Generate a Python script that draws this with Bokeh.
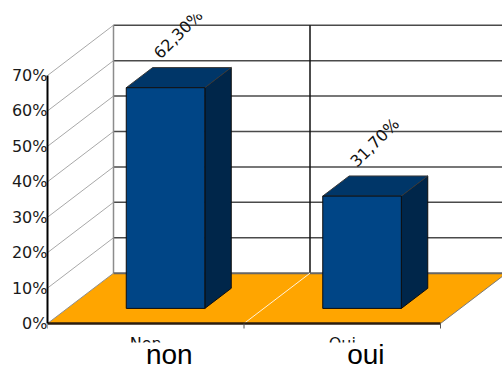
from bokeh.plotting import figure
from bokeh.models import Range1d, FixedTicker, PrintfTickFormatter, BoxAnnotation
from bokeh.core.properties import value
from bokeh.embed import file_html
from bokeh.resources import INLINE

# ---- data -------------------------------------------------------------
categories = ["Non", "Oui"]
shares = [62.3, 31.7]                      # percent of answers
share_labels = ["62,30%", "31,70%"]
overlay_labels = ["non", "oui"]
y_ticks = [0, 10, 20, 30, 40, 50, 60, 70]
y_max = 70

# ---- canvas and oblique-projection geometry (pixels) ------------------
W, H = 502, 365
LEFT, TOP = 47, 14            # frame offset inside the canvas
ZERO_Y, MAX_Y = 323, 75       # canvas rows of 0 % and 70 % on the front axis
SLOT_PX = 196.5               # width of one category slot on the front plane
DEPTH_DX_PX, DEPTH_DY_PX = 66, 50.3   # shift from the front plane to the back wall

px_per_pct = (ZERO_Y - MAX_Y) / y_max
DX = DEPTH_DX_PX / SLOT_PX    # depth shift in x data units
DY = DEPTH_DY_PX / px_per_pct  # depth shift in percent units
n = len(categories)

BAR_HALF = 0.2                # half bar width, in slot units
D_FRONT, D_BACK = 0.3, 0.7    # bar depth span (0 = front plane, 1 = back wall)


def proj(x, y, d):
    """Project a point at depth d onto the drawing plane."""
    return x + d * DX, y + d * DY


def canvas_row(row):
    """Percent value that lands on a given canvas row (front plane)."""
    return (ZERO_Y - row) / px_per_pct


x_range = Range1d(0, (W - LEFT) / SLOT_PX)
y_range = Range1d(canvas_row(H), canvas_row(TOP))

p = figure(width=W, height=H, x_range=x_range, y_range=y_range,
           output_backend="svg", toolbar_location=None,
           x_axis_location=None, y_axis_location="left",
           min_border_left=LEFT, min_border_top=TOP,
           min_border_right=0, min_border_bottom=0)
p.grid.visible = False
p.outline_line_color = None
p.background_fill_color = "white"
p.border_fill_color = "white"

# ---- left value axis --------------------------------------------------
ax = p.yaxis[0]
ax.ticker = FixedTicker(ticks=y_ticks)
ax.formatter = PrintfTickFormatter(format="%d%%")
ax.bounds = (0, y_max)
ax.axis_line_color = "black"
ax.axis_line_width = 2
ax.major_tick_in = 0
ax.major_tick_out = 0
ax.minor_tick_in = 0
ax.minor_tick_out = 0
ax.major_label_standoff = 0
ax.major_label_text_font = "DejaVu Sans"
ax.major_label_text_font_size = "16px"
ax.major_label_text_color = "#1a1a1a"

# ---- side wall: diagonals from the front axis to the back wall --------
side_xs, side_ys = [], []
for t in y_ticks[1:]:
    bx, by = proj(0, t, 1)
    side_xs.append([0, bx])
    side_ys.append([t, by])
p.multi_line(side_xs, side_ys, line_color="#a8a8a8", line_width=1)

# ---- back wall grid ---------------------------------------------------
grid_xs, grid_ys = [], []
for t in y_ticks[1:]:
    x0, y0 = proj(0, t, 1)
    x1, y1 = proj(n, t, 1)
    grid_xs.append([x0, x1])
    grid_ys.append([y0, y1])
p.multi_line(grid_xs, grid_ys, line_color="#4a4a4a", line_width=1.5)

lx0, ly0 = proj(0, 0, 1)
lx1, ly1 = proj(0, y_max, 1)
p.line([lx0, lx1], [ly0, ly1], line_color="#8c8c8c", line_width=1.5)
for k in range(1, n):
    vx0, vy0 = proj(k, 0, 1)
    vx1, vy1 = proj(k, y_max, 1)
    p.line([vx0, vx1], [vy0, vy1], line_color="#111111", line_width=1.5)

# ---- floor ------------------------------------------------------------
floor = [proj(0, 0, 0), proj(n, 0, 0), proj(n, 0, 1), proj(0, 0, 1)]
p.patch([q[0] for q in floor], [q[1] for q in floor],
        fill_color="#ffa500", line_color=None)
p.line([floor[3][0], floor[2][0]], [floor[3][1], floor[2][1]],
       line_color="#666666", line_width=2)
p.line([floor[1][0], floor[2][0]], [floor[1][1], floor[2][1]],
       line_color="#7a7a7a", line_width=1)
p.line([floor[0][0], floor[3][0]], [floor[0][1], floor[3][1]],
       line_color="#8f8f8f", line_width=1)
for k in range(1, n):
    fx0, fy0 = proj(k, 0, 0)
    fx1, fy1 = proj(k, 0, 1)
    p.line([fx0, fx1], [fy0, fy1], line_color="#fff3dc", line_width=1)

# front edge and category ticks
p.line([0, n], [0, 0], line_color="#2b1d0e", line_width=2.5)
tick_len = 5 / px_per_pct
p.segment(x0=list(range(n + 1)), y0=[0] * (n + 1),
          x1=list(range(n + 1)), y1=[-tick_len] * (n + 1),
          line_color="#555555", line_width=1)

# ---- bars -------------------------------------------------------------
front_xs, front_ys, top_xs, top_ys, side_xs2, side_ys2 = [], [], [], [], [], []
for i, v in enumerate(shares):
    xc = i + 0.5
    xl, xr = xc - BAR_HALF, xc + BAR_HALF
    f = [proj(xl, 0, D_FRONT), proj(xr, 0, D_FRONT),
         proj(xr, v, D_FRONT), proj(xl, v, D_FRONT)]
    t = [proj(xl, v, D_FRONT), proj(xr, v, D_FRONT),
         proj(xr, v, D_BACK), proj(xl, v, D_BACK)]
    s = [proj(xr, 0, D_FRONT), proj(xr, 0, D_BACK),
         proj(xr, v, D_BACK), proj(xr, v, D_FRONT)]
    front_xs.append([q[0] for q in f]); front_ys.append([q[1] for q in f])
    top_xs.append([q[0] for q in t]); top_ys.append([q[1] for q in t])
    side_xs2.append([q[0] for q in s]); side_ys2.append([q[1] for q in s])

p.patches(side_xs2, side_ys2, fill_color="#00264a", line_color="#0d0d0d", line_width=1)
p.patches(top_xs, top_ys, fill_color="#003668", line_color="#3a3a3a", line_width=1)
p.patches(front_xs, front_ys, fill_color="#004586", line_color="#0d0d0d", line_width=1)

# value labels above each bar
lab_x, lab_y = [], []
for i, v in enumerate(shares):
    bx, by = proj(i + 0.5, v, D_FRONT)
    lab_x.append(bx - 0.045)
    lab_y.append(by + 9.0)
p.text(x=lab_x, y=lab_y, text=share_labels, angle=45, angle_units="deg",
       text_font=value("DejaVu Sans"), text_font_size="16px",
       text_color="#111111", text_align="left", text_baseline="alphabetic")

# category names under the front edge
p.text(x=[i + 0.5 for i in range(n)], y=[canvas_row(333)] * n,
       text=categories, text_font=value("DejaVu Sans"), text_font_size="16px",
       text_color="#111111", text_align="center", text_baseline="top")

# white caption strip over the lower part of the canvas
p.add_layout(BoxAnnotation(top=canvas_row(342),
                           fill_color="white", fill_alpha=1.0, line_color=None))

# large captions drawn on top of the strip
p.text(x=[i + 0.5 + 0.12 for i in range(n)], y=[canvas_row(354)] * n,
       text=overlay_labels, text_align="center", text_baseline="middle",
       text_font=value("Liberation Sans"), text_font_size="28px",
       text_color="#000000", level="overlay")

open("out.html", "w").write(file_html(p, INLINE))
